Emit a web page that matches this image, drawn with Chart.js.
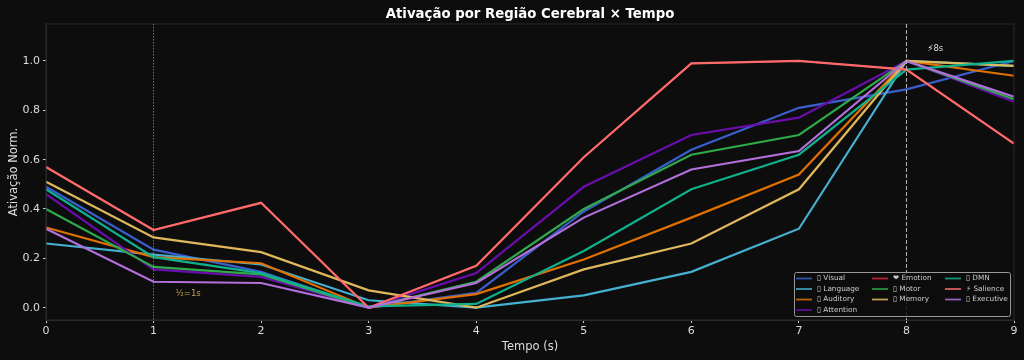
<!DOCTYPE html>
<html>
<head>
<meta charset="utf-8">
<script src="https://cdn.jsdelivr.net/npm/chart.js@4"></script>
<style>
    html, body { margin: 0; padding: 0; background: #0d0d0d; }
    canvas { display: block; }
</style>
</head>
<body>
<canvas id="chart" width="1024" height="360"></canvas>
<script>
const tempo = ["0", "1", "2", "3", "4", "5", "6", "7", "8", "9"];
const yTicks = [0, 0.2, 0.4, 0.6, 0.8, 1.0];

const visual    = [0.49, 0.235, 0.145, 0, 0.06, 0.39, 0.64, 0.81, 0.885, 1.0];
const language  = [0.26, 0.215, 0.175, 0.03, 0, 0.05, 0.145, 0.32, 1.0, 0.98];
const auditory  = [0.325, 0.205, 0.18, 0, 0.055, 0.195, 0.365, 0.54, 1.0, 0.94];
const attention = [0.46, 0.155, 0.125, 0, 0.14, 0.49, 0.70, 0.77, 1.0, 0.835];
const emotion   = [0.57, 0.315, 0.425, 0, 0.17, 0.61, 0.99, 1.0, 0.965, 0.665];
const motor     = [0.40, 0.165, 0.135, 0, 0.105, 0.40, 0.62, 0.70, 1.0, 0.845];
const memory    = [0.51, 0.285, 0.225, 0.07, 0, 0.155, 0.26, 0.48, 1.0, 0.98];
const dmn       = [0.48, 0.205, 0.14, 0.005, 0.015, 0.23, 0.48, 0.62, 0.965, 1.0];
const salience  = [0.57, 0.315, 0.425, 0, 0.17, 0.61, 0.99, 1.0, 0.965, 0.665];
const executive = [0.32, 0.105, 0.10, 0, 0.10, 0.365, 0.56, 0.635, 1.0, 0.855];

// the reference shows empty boxes where its font had no emoji
const names = ["▯ Visual", "▯ Language", "▯ Auditory", "▯ Attention", "❤ Emotion",
               "▯ Motor", "▯ Memory", "▯ DMN", "⚡ Salience", "▯ Executive"];
const colors = ["#3a5fcd", "#45b0d0", "#e07000", "#6a0dad", "#d62839",
                "#2eaa4a", "#e0b85c", "#10b08c", "#ff6b6b", "#b36fdc"];
const values = [visual, language, auditory, attention, emotion, motor, memory, dmn, salience, executive];

// spines, marker lines, notes and the 3 column legend
const extras = {
    id: "extras",
    afterDraw(chart) {
        const ctx = chart.ctx, a = chart.chartArea, sx = chart.scales.x, sy = chart.scales.y;
        ctx.save();
        ctx.strokeStyle = "#2a2a2a";
        ctx.lineWidth = 1;
        ctx.strokeRect(a.left, a.top, a.right - a.left, a.bottom - a.top);

        ctx.beginPath();
        ctx.setLineDash([1.5, 1.5]);
        ctx.strokeStyle = "rgba(224,184,92,0.6)";
        ctx.moveTo(sx.getPixelForValue(1), a.top);
        ctx.lineTo(sx.getPixelForValue(1), a.bottom);
        ctx.stroke();

        ctx.beginPath();
        ctx.setLineDash([4, 2]);
        ctx.strokeStyle = "#bbbbbb";
        ctx.moveTo(sx.getPixelForValue(8), a.top);
        ctx.lineTo(sx.getPixelForValue(8), a.bottom);
        ctx.stroke();
        ctx.setLineDash([]);

        ctx.font = "8.5px 'DejaVu Sans'";
        ctx.textBaseline = "middle";
        ctx.fillStyle = "#c8a050";
        ctx.fillText("½=1s", sx.getPixelForValue(1) + 22, sy.getPixelForValue(0.057));
        ctx.fillStyle = "#dddddd";
        ctx.fillText("⚡8s", sx.getPixelForValue(8) + 21, sy.getPixelForValue(1.05));

        // legend box
        ctx.fillStyle = "rgba(13,13,13,0.85)";
        ctx.strokeStyle = "#999999";
        ctx.beginPath();
        ctx.roundRect(794.5, 272.5, 216, 44, 2);
        ctx.fill();
        ctx.stroke();
        const cols = [796, 872, 945];
        const rows = [278.5, 289, 299.5, 310];
        const perCol = [4, 3, 3];
        ctx.font = "7.3px 'DejaVu Sans'";
        let n = 0;
        perCol.forEach((count, c) => {
            for (let r = 0; r < count; r++, n++) {
                ctx.strokeStyle = colors[n];
                ctx.globalAlpha = 0.85;
                ctx.lineWidth = 1.8;
                ctx.beginPath();
                ctx.moveTo(cols[c], rows[r]);
                ctx.lineTo(cols[c] + 16, rows[r]);
                ctx.stroke();
                ctx.globalAlpha = 1;
                ctx.fillStyle = "#cccccc";
                ctx.fillText(names[n], cols[c] + 21, rows[r]);
            }
        });
        ctx.restore();
    }
};

new Chart(document.getElementById("chart"), {
    type: "line",
    data: {
        labels: tempo,
        datasets: names.map((name, i) => ({
            label: name,
            data: values[i],
            borderColor: colors[i],
            borderWidth: i === 4 ? 1.5 : 2.2,
            pointRadius: 0,
            tension: 0,
            order: names.length - i
        }))
    },
    plugins: [extras],
    options: {
        responsive: false,
        animation: false,
        layout: { padding: { top: 0, right: 10, left: 7, bottom: 4 } },
        plugins: {
            legend: { display: false },
            tooltip: { enabled: false },
            title: {
                display: true,
                text: "Ativação por Região Cerebral × Tempo",
                color: "#ffffff",
                fullSize: false,
                font: { family: "'DejaVu Sans'", size: 13.3, weight: "bold" },
                padding: { top: 7, bottom: 1 }
            }
        },
        scales: {
            x: {
                offset: false,
                title: { display: true, text: "Tempo (s)", color: "#dddddd", font: { family: "'DejaVu Sans'", size: 11.5 }, padding: 2 },
                grid: { drawOnChartArea: false, color: "#cccccc", tickLength: 3 },
                border: { color: "#2a2a2a" },
                ticks: { color: "#dddddd", font: { family: "'DejaVu Sans'", size: 11 }, maxRotation: 0, padding: 2 },
                afterFit(s) { s.height = 36; }
            },
            y: {
                min: -0.05,
                max: 1.15,
                title: { display: true, text: "Ativação Norm.", color: "#dddddd", font: { family: "'DejaVu Sans'", size: 11.5 }, padding: 0 },
                grid: { drawOnChartArea: false, color: "#cccccc", tickLength: 3 },
                border: { color: "#2a2a2a" },
                ticks: { color: "#dddddd", font: { family: "'DejaVu Sans'", size: 11 }, padding: 3, callback: v => v.toFixed(1) },
                afterBuildTicks(s) { s.ticks = yTicks.map(v => ({ value: v })); },
                afterFit(s) { s.width = 39; }
            }
        }
    }
});
</script>
</body>
</html>
